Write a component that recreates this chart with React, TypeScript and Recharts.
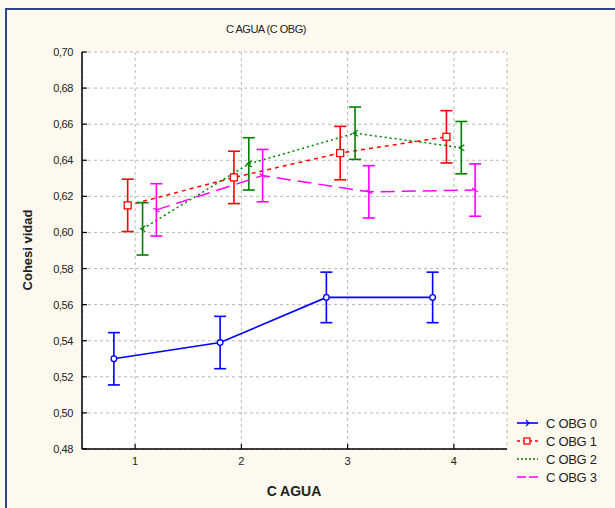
import React from 'react';
import { ComposedChart, Line, XAxis, YAxis, CartesianGrid, ErrorBar } from 'recharts';

const categories = [1, 2, 3, 4];
const seriesNames = ['C OBG 0', 'C OBG 1', 'C OBG 2', 'C OBG 3'];
const obg0 = [0.530, 0.539, 0.564, 0.564];
const obg1 = [0.615, 0.6305, 0.644, 0.653];
const obg2 = [0.602, 0.638, 0.655, 0.647];
const obg3 = [0.6125, 0.6315, 0.6225, 0.6235];
const err0 = [0.0145, 0.0145, 0.014, 0.014];
const err1 = [0.0145, 0.0145, 0.0148, 0.0145];
const err2 = [0.0145, 0.0145, 0.0145, 0.0145];
const err3 = [0.0145, 0.0145, 0.0145, 0.0145];
const yTicks = [0.48, 0.5, 0.52, 0.54, 0.56, 0.58, 0.6, 0.62, 0.64, 0.66, 0.68, 0.7];

// horizontal dodge of each series around the category
const dodge = [-0.2, -0.07, 0.07, 0.2];

const build = (vals: number[], errs: number[], k: number) =>
  categories.map((c, i) => ({ x: c + dodge[k], y: vals[i], e: errs[i] }));

const d0 = build(obg0, err0, 0);
const d1 = build(obg1, err1, 1);
const d2 = build(obg2, err2, 2);
const d3 = build(obg3, err3, 3);

const colors = ['#0000FF', '#FF0000', '#008000', '#FF00FF'];
const dashes = ['0', '4 4', '2 3', '14 7'];
const FONT = 'Arial, "Liberation Sans", sans-serif';

const YTickL = (p: any) => (
  <g>
    <line x1={p.x} x2={p.x + 5} y1={p.y} y2={p.y} stroke="#000" strokeWidth={1.2} />
    <text x={p.x - 9} y={p.y + 4} textAnchor="end" fontSize={11} fontFamily={FONT} fill="#222" letterSpacing={-0.4}>
      {Number(p.payload.value).toFixed(2).replace('.', ',')}
    </text>
  </g>
);
const YTickR = (p: any) => (
  <line x1={p.x} x2={p.x - 5} y1={p.y} y2={p.y} stroke="#000" strokeWidth={1.2} />
);
const XTickB = (p: any) => (
  <g>
    <line x1={p.x} x2={p.x} y1={p.y} y2={p.y - 5} stroke="#000" strokeWidth={1.2} />
    <text x={p.x} y={p.y + 16} textAnchor="middle" fontSize={11} fontFamily={FONT} fill="#222">
      {p.payload.value}
    </text>
  </g>
);
const XTickT = (p: any) => (
  <line x1={p.x} x2={p.x} y1={p.y} y2={p.y + 5} stroke="#000" strokeWidth={1.2} />
);

const dotFor = (k: number) => (p: any) => {
  const c = colors[k];
  const key = `d${k}-${p.index}`;
  if (p.cx == null || p.cy == null) return <g key={key} />;
  if (k === 1)
    return <rect key={key} x={p.cx - 3.5} y={p.cy - 3.5} width={7} height={7} fill="#fff" stroke={c} strokeWidth={1.3} />;
  if (k === 0)
    return <circle key={key} cx={p.cx} cy={p.cy} r={2.8} fill="#fff" stroke={c} strokeWidth={1.3} />;
  if (k === 2)
    return <path key={key} d={`M${p.cx + 3},${p.cy - 3} L${p.cx - 2},${p.cy} L${p.cx + 3},${p.cy + 3}`} fill="none" stroke={c} strokeWidth={1.2} />;
  return <path key={key} d={`M${p.cx - 3},${p.cy - 2} L${p.cx + 3},${p.cy + 2}`} fill="none" stroke={c} strokeWidth={1.2} />;
};

const LegendBox = () => (
  <svg width={100} height={80} style={{ position: 'absolute', left: 515, top: 415 }}>
    {seriesNames.map((n, i) => {
      const y = 8 + i * 18;
      return (
        <g key={n}>
          <line x1={2} x2={23} y1={y} y2={y} stroke={colors[i]} strokeWidth={1.6} strokeDasharray={i === 0 ? '0' : i === 1 ? '3 3' : i === 2 ? '2 2' : '9 3'} />
          {i === 1 && <rect x={9} y={y - 3} width={6} height={6} fill="#fff" stroke={colors[1]} strokeWidth={1.3} />}
          {i === 0 && <path d={`M${11},${y - 3} L${14},${y} L${11},${y + 3}`} fill="none" stroke={colors[0]} strokeWidth={1.2} />}
          <text x={31} y={y + 5} fontSize={13} fontFamily={FONT} fill="#222" letterSpacing={-0.3}>{n}</text>
        </g>
      );
    })}
  </svg>
);

export default function App() {
  const series = [d0, d1, d2, d3];
  return (
    <div style={{ position: 'absolute', left: 0, top: 0, width: 615, height: 508, background: '#FEF9EE', overflow: 'hidden' }}>
      <div style={{ position: 'absolute', left: 5, top: 8, width: 620, height: 510, borderLeft: '2px solid #2C4783', borderTop: '2px solid #2C4783' }} />
      <div style={{ position: 'absolute', left: 0, top: 0 }}>
        <ComposedChart
          width={615}
          height={508}
          margin={{ top: 52, right: 108, bottom: 29, left: 42 }}
        >
          <CartesianGrid fill="#fff" stroke="#B8B8B8" strokeDasharray="3 3" />
          <XAxis
            dataKey="x"
            type="number"
            domain={[0.5, 4.5]}
            ticks={categories}
            allowDataOverflow
            axisLine={{ stroke: '#000', strokeWidth: 1.5 }}
            tickLine={false}
            tickSize={0}
            tickMargin={0}
            height={30}
            tick={<XTickB />}
            interval={0}
          />
          <XAxis
            xAxisId="t"
            orientation="top"
            type="number"
            domain={[0.5, 4.5]}
            ticks={categories}
            allowDataOverflow
            axisLine={{ stroke: '#000', strokeWidth: 1.5 }}
            tickLine={false}
            tickSize={0}
            tickMargin={0}
            height={0}
            tick={<XTickT />}
            interval={0}
          />
          <YAxis
            type="number"
            domain={[0.48, 0.7]}
            ticks={yTicks}
            allowDataOverflow
            axisLine={{ stroke: '#000', strokeWidth: 1.5 }}
            tickLine={false}
            tickSize={0}
            tickMargin={0}
            width={40}
            tick={<YTickL />}
            interval={0}
          />
          <YAxis
            yAxisId="r"
            orientation="right"
            type="number"
            domain={[0.48, 0.7]}
            ticks={yTicks}
            allowDataOverflow
            axisLine={{ stroke: '#000', strokeWidth: 1.5 }}
            tickLine={false}
            tickSize={0}
            tickMargin={0}
            width={0}
            tick={<YTickR />}
            interval={0}
          />
          {series.map((d, k) => (
            <Line
              key={seriesNames[k]}
              data={d}
              dataKey="y"
              name={seriesNames[k]}
              type="linear"
              stroke={colors[k]}
              strokeWidth={k === 0 ? 1.6 : 1.5}
              strokeDasharray={dashes[k]}
              dot={dotFor(k)}
              activeDot={false}
              isAnimationActive={false}
            >
              <ErrorBar dataKey="e" direction="y" width={6} stroke={colors[k]} strokeWidth={1.6} />
            </Line>
          ))}
          <text x={266} y={33} textAnchor="middle" fontSize={11} fontFamily={FONT} fill="#222" letterSpacing={-0.5}>
            C AGUA (C OBG)
          </text>
          <text x={294} y={496} textAnchor="middle" fontSize={14} fontWeight="bold" fontFamily={FONT} fill="#222">
            C AGUA
          </text>
          <text
            x={32}
            y={250}
            textAnchor="middle"
            fontSize={13}
            fontWeight="bold"
            fontFamily={FONT}
            fill="#222"
            transform="rotate(-90 32 250)"
          >
            Cohesi vidad
          </text>
        </ComposedChart>
      </div>
      <LegendBox />
    </div>
  );
}
